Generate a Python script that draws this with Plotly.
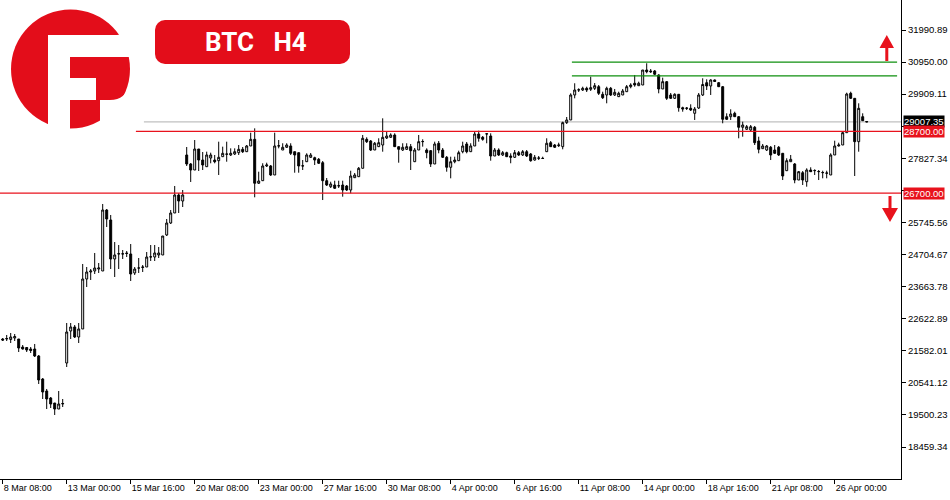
import base64
import plotly.graph_objects as go

# ---------------- data (BTC, H4 candles) ----------------
tick_labels = ["8 Mar 08:00", "13 Mar 00:00", "15 Mar 16:00", "20 Mar 08:00", "23 Mar 00:00",
               "27 Mar 16:00", "30 Mar 08:00", "4 Apr 00:00", "6 Apr 16:00", "11 Apr 08:00",
               "14 Apr 00:00", "18 Apr 16:00", "21 Apr 08:00", "26 Apr 00:00"]
tick_every = 16

price_ticks = ["18459.34", "19500.23", "20541.12", "21582.01", "22622.89", "23663.78", "24704.67",
               "25745.56", "26786.45", "27827.34", "28868.23", "29909.11", "30950.00", "31990.89"]
# tick labels hidden behind the price boxes in the reference
hidden_ticks = ["26786.45", "28868.23"]

opens = [21964, 21964, 21948, 21996, 21964, 21704, 21688, 21639, 21639, 21412,
         20666, 20277, 20049, 19887, 19692, 19855, 21185, 22224, 22354, 22029,
         22289, 23911, 24138, 24171, 24235, 24171, 26150, 25826, 24560, 24722,
         24722, 24755, 24722, 24106, 24268, 24284, 24300, 24625, 24625, 24690,
         24690, 25339, 25728, 26053, 26637, 26442, 27935, 27643, 27448, 28129,
         27772, 27555, 27837, 27772, 27750, 27880, 27957, 27935, 27967, 28010,
         28119, 28042, 28227, 28444, 27018, 27101, 27578, 27578, 27286, 28227,
         28097, 28185, 28227, 28042, 28010, 27578, 27717, 27860, 27847, 27795,
         27685, 27101, 26906, 26961, 26929, 26961, 26929, 26799, 27198, 27231,
         27503, 28444, 28389, 28097, 28205, 28259, 28486, 28509, 28584, 28205,
         28097, 28119, 28205, 27717, 28097, 28367, 28097, 28075, 27643, 28315,
         28097, 27860, 27536, 27717, 27750, 28042, 28292, 28042, 28227, 28616,
         28509, 28616, 28551, 27902, 28097, 27935, 28010, 27902, 27860, 28010,
         27935, 28042, 27967, 27772, 27828, 27828, 28042, 28334, 28259, 28237,
         28205, 28984, 29071, 29882, 30044, 30044, 30099, 30067, 30099, 30151,
         29904, 29882, 30099, 29882, 29828, 29882, 29989, 30151, 30262, 30184,
         30206, 30693, 30661, 30661, 30531, 30077, 30314, 29882, 29774, 29904,
         29470, 29460, 29450, 29288, 29460, 29882, 30281, 30174, 30369, 30281,
         30151, 29178, 29178, 29288, 29178, 28834, 28769, 28746, 28834, 28389,
         28140, 28097, 28185, 28097, 28185, 27990, 27425, 27717, 27643, 27123,
         27360, 27068, 27448, 27425, 27393, 27360, 27341, 27286, 27935, 28227,
         28259, 28659, 29937, 29774, 28367, 29178, 29022]

highs = [21996, 22094, 22159, 22126, 21964, 21769, 21704, 21704, 21802, 21444,
         20698, 20342, 20082, 19887, 20277, 20017, 22483, 22483, 22418, 22483,
         24398, 24300, 24235, 24755, 24430, 26345, 26182, 25988, 25111, 25014,
         24852, 24820, 25046, 24300, 24592, 24365, 24787, 25014, 25014, 24949,
         25306, 25858, 26150, 26929, 26702, 26799, 28194, 27675, 28421, 28129,
         28032, 28043, 28010, 27935, 28367, 28205, 28367, 28151, 28151, 28259,
         28194, 28259, 28659, 28800, 27393, 27666, 27685, 27610, 28659, 28421,
         28315, 28315, 28315, 28042, 28010, 27772, 27990, 28000, 27880, 27837,
         27740, 27188, 27068, 27101, 27101, 27101, 26961, 27425, 27351, 27545,
         28584, 28509, 28421, 28357, 28477, 29125, 28691, 28639, 28639, 28205,
         28315, 28315, 28292, 28162, 28584, 28444, 28151, 28097, 28367, 28389,
         28162, 27902, 27880, 27880, 28075, 28367, 28357, 28315, 28681, 28723,
         28551, 28639, 28639, 28162, 28151, 28065, 28042, 27990, 28097, 28065,
         28097, 28097, 28000, 27935, 27902, 27880, 28477, 28389, 28292, 28334,
         29016, 29168, 29937, 30262, 30099, 30151, 30151, 30476, 30271, 30206,
         29989, 30151, 30142, 30077, 29989, 30077, 30206, 30262, 30531, 30314,
         30693, 30911, 30725, 30693, 30554, 30444, 30336, 29947, 29937, 29914,
         29502, 29492, 29580, 29492, 29947, 30424, 30391, 30391, 30385, 30304,
         30174, 29288, 29418, 29340, 29200, 29016, 28908, 28908, 28876, 28529,
         28292, 28259, 28227, 28259, 28227, 28000, 27828, 27935, 27675, 27416,
         27416, 27503, 27536, 27470, 27448, 27425, 27425, 27990, 28399, 28334,
         28691, 29957, 29989, 29784, 29612, 29288, 29022]

lows = [21899, 21899, 21834, 21899, 21542, 21623, 21542, 21510, 21380, 20504,
        20017, 19692, 19725, 19498, 19692, 19757, 21055, 21964, 21996, 21834,
        22289, 23651, 23879, 24073, 24106, 24171, 25598, 24235, 23976, 24235,
        24560, 24625, 23846, 24041, 24106, 24138, 24300, 24495, 24495, 24592,
        24690, 25306, 25696, 26053, 26053, 26247, 27578, 27059, 27448, 27416,
        27448, 27545, 27665, 27665, 27286, 27870, 27717, 27902, 27935, 27935,
        28000, 28032, 28227, 26562, 26994, 27091, 27545, 27254, 27286, 28151,
        28097, 28162, 27935, 27360, 27360, 27448, 27708, 27837, 27610, 27643,
        26474, 26929, 26864, 26831, 26864, 26582, 26766, 26692, 27188, 27221,
        27503, 28324, 28065, 28097, 28194, 28042, 28454, 28486, 28194, 27685,
        28065, 28097, 27448, 27708, 28097, 28205, 27828, 27545, 27643, 27990,
        27837, 27393, 27178, 27666, 27740, 27990, 27990, 28032, 28227, 28367,
        28399, 28315, 27750, 27902, 27902, 27902, 27870, 27666, 27837, 27902,
        27902, 27870, 27717, 27750, 27772, 27805, 28032, 28194, 28162, 28194,
        28119, 28941, 29071, 29774, 29979, 30012, 29979, 30012, 30044, 29882,
        29752, 29612, 29849, 29849, 29817, 29882, 29979, 30099, 30151, 30174,
        30206, 30586, 30596, 30531, 29937, 30077, 29720, 29752, 29752, 29340,
        29340, 29395, 29362, 29071, 29427, 29849, 30044, 29882, 30304, 30141,
        28963, 29071, 29071, 29168, 28477, 28529, 28746, 28714, 28259, 27990,
        28129, 28065, 27772, 27967, 27902, 27123, 27416, 27708, 27018, 27123,
        26961, 26906, 27383, 27286, 27123, 27178, 27178, 27286, 27935, 28211,
        28259, 28659, 29752, 27253, 28042, 29038, 29007]

closes = [21931, 21980, 22029, 22045, 21672, 21639, 21607, 21591, 21412, 20634,
          20244, 20017, 19855, 19692, 19855, 19871, 22191, 22354, 22029, 22289,
          23911, 24138, 24171, 24268, 24268, 26150, 25858, 24560, 24690, 24732,
          24729, 24739, 24073, 24235, 24268, 24300, 24625, 24631, 24755, 24755,
          25306, 25728, 26053, 26637, 26442, 26637, 27643, 27448, 28129, 27772,
          27610, 27935, 27935, 27717, 27860, 27990, 27967, 27990, 28042, 28119,
          28042, 28227, 28444, 27018, 27091, 27578, 27610, 27286, 28227, 28233,
          28185, 28259, 27990, 27935, 27578, 27584, 27935, 27935, 27772, 27666,
          27101, 26961, 26994, 26854, 26939, 26799, 26799, 27253, 27286, 27503,
          28477, 28367, 28097, 28315, 28334, 28509, 28551, 28584, 28205, 28119,
          28185, 28205, 28075, 28097, 28367, 28373, 28010, 27643, 28292, 28097,
          27860, 27536, 27717, 27772, 28010, 28227, 28042, 28227, 28616, 28477,
          28444, 28623, 27902, 28097, 27935, 28010, 27880, 27860, 28010, 27935,
          28042, 27902, 27750, 27860, 27837, 27821, 28315, 28205, 28185, 28259,
          28984, 29071, 29882, 30044, 30051, 30099, 30044, 30119, 30184, 29937,
          29794, 30099, 29882, 29969, 29937, 30012, 30151, 30206, 30206, 30262,
          30693, 30638, 30638, 30554, 30077, 30314, 29774, 29774, 29904, 29470,
          29427, 29450, 29395, 29427, 29882, 30223, 30174, 30369, 30320, 30151,
          29093, 29093, 29265, 29178, 28834, 28908, 28853, 28853, 28334, 28119,
          28227, 28227, 27935, 27990, 27935, 27253, 27750, 27795, 27123, 27393,
          27123, 27448, 27393, 27432, 27399, 27367, 27351, 27935, 28227, 28259,
          28659, 29914, 29774, 28367, 29450, 29048, 29007.35]

bar_index = list(range(len(opens)))

last_price = 29007.35
resistance_levels = [30950.00, 30500.00]
support_upper = 28700.00
support_lower = 26700.00

# ---------------- figure geometry ----------------
W, H = 950, 500
ML, MR, MT, MB = 0, 49, 0, 21
PW, PH = W - ML - MR, H - MT - MB
X_RANGE = [-0.675, 224.575]
Y_RANGE = [17421.0, 32964.5]

RED = "#e30d1a"
LINE_RED = "#e8121c"
GREEN = "#0e8f0e"
FONT = "Liberation Sans, Arial, sans-serif"


def px(x, y):
    """page pixel -> paper coordinates"""
    return (x - ML) / PW, 1 - (y - MT) / PH


fig = go.Figure()
fig.add_trace(go.Candlestick(
    x=bar_index, open=opens, high=highs, low=lows, close=closes,
    increasing=dict(fillcolor="white", line=dict(color="black", width=1)),
    decreasing=dict(fillcolor="black", line=dict(color="black", width=1)),
    whiskerwidth=0, hoverinfo="skip", showlegend=False,
))

shapes = []
shapes.append(dict(type="line", xref="x", yref="y", x0=35.3, x1=X_RANGE[1], y0=last_price, y1=last_price,
                   line=dict(color="#c0c0c0", width=1.2), layer="below"))
shapes.append(dict(type="line", xref="x", yref="y", x0=33.3, x1=X_RANGE[1], y0=support_upper, y1=support_upper,
                   line=dict(color=LINE_RED, width=1.3)))
shapes.append(dict(type="line", xref="x", yref="y", x0=X_RANGE[0], x1=X_RANGE[1], y0=support_lower, y1=support_lower,
                   line=dict(color=LINE_RED, width=1.3)))
for lv in resistance_levels:
    shapes.append(dict(type="line", xref="x", yref="y", x0=142.3, x1=223.6, y0=lv, y1=lv,
                       line=dict(color=GREEN, width=1.3)))


def poly(points):
    pts = [px(x, y) for x, y in points]
    return "M" + " L".join(f"{a:.5f},{b:.5f}" for a, b in pts) + " Z"


# red arrows
up_arrow = [(879.5, 48), (886.8, 35), (894, 48), (888.3, 48), (888.3, 61), (885.3, 61), (885.3, 48)]
down_arrow = [(888.5, 196), (891.5, 196), (891.5, 208), (898, 208), (890, 222), (882, 208), (888.5, 208)]
for arr in (up_arrow, down_arrow):
    shapes.append(dict(type="path", xref="paper", yref="paper", path=poly(arr),
                       fillcolor=LINE_RED, line=dict(width=0)))

# logo + title box as an svg image
svg = f"""<svg xmlns='http://www.w3.org/2000/svg' width='360' height='140' viewBox='0 0 360 140'>
<circle cx='70.5' cy='69' r='59.5' fill='{RED}'/>
<path fill='white' d='M48,35 L117,35 L132,33 L132,57 L70,57 L70,78 L96,78 L96,100 L70,100 L70,132 L48,132 Z'/>
<path fill='white' d='M100,135 L100,100 L110,100 Q126,100 129,84 L140,84 L140,135 Z'/>
<rect x='155' y='20' width='195' height='44' rx='10' ry='10' fill='{RED}'/>
</svg>"""
src = "data:image/svg+xml;base64," + base64.b64encode(svg.encode()).decode()
x0p, y0p = px(0, 0)
fig.add_layout_image(dict(source=src, xref="paper", yref="paper", x=x0p, y=y0p,
                          sizex=360 / PW, sizey=140 / PH, xanchor="left", yanchor="top",
                          sizing="stretch", layer="above"))

annotations = []
tx, ty = px(255.5, 42)
annotations.append(dict(xref="paper", yref="paper", x=tx, y=ty, text="<b>BTC\u00a0\u00a0\u00a0H4</b>",
                        showarrow=False, font=dict(family="Roboto, Arial", size=26, color="white"),
                        xanchor="center", yanchor="middle"))

# price boxes on the right axis
for val, txt, bg in [(last_price, "29007.35", "black"),
                     (support_upper, "28700.00", LINE_RED),
                     (support_lower, "26700.00", LINE_RED)]:
    annotations.append(dict(xref="paper", yref="y", x=1, y=val, text=txt, showarrow=False,
                            xanchor="left", yanchor="middle", xshift=2, bgcolor=bg, borderpad=0,
                            font=dict(family=FONT, size=9.5, color="white")))

fig.update_layout(
    width=W, height=H, autosize=False,
    margin=dict(l=ML, r=MR, t=MT, b=MB, pad=0),
    paper_bgcolor="white", plot_bgcolor="white",
    showlegend=False, shapes=shapes, annotations=annotations,
    hovermode=False,
    xaxis=dict(range=X_RANGE, showgrid=False, zeroline=False, rangeslider=dict(visible=False),
               tickmode="array", tickvals=[i * tick_every for i in range(len(tick_labels))],
               ticktext=tick_labels, ticks="outside", ticklen=4, tickcolor="black",
               ticklabelposition="outside right",
               showline=True, linecolor="black", linewidth=1,
               tickfont=dict(family=FONT, size=9, color="black"), fixedrange=True),
    yaxis=dict(range=Y_RANGE, side="right", showgrid=False, zeroline=False,
               tickmode="array", tickvals=[float(t) for t in price_ticks],
               ticktext=["" if t in hidden_ticks else t for t in price_ticks],
               ticks="outside", ticklen=4, tickcolor="black",
               showline=True, linecolor="black", linewidth=1,
               tickfont=dict(family=FONT, size=9.5, color="black"), fixedrange=True),
)

fig.write_html("out.html", config=dict(displayModeBar=False, staticPlot=True),
               post_script="document.body.style.margin='0';")
